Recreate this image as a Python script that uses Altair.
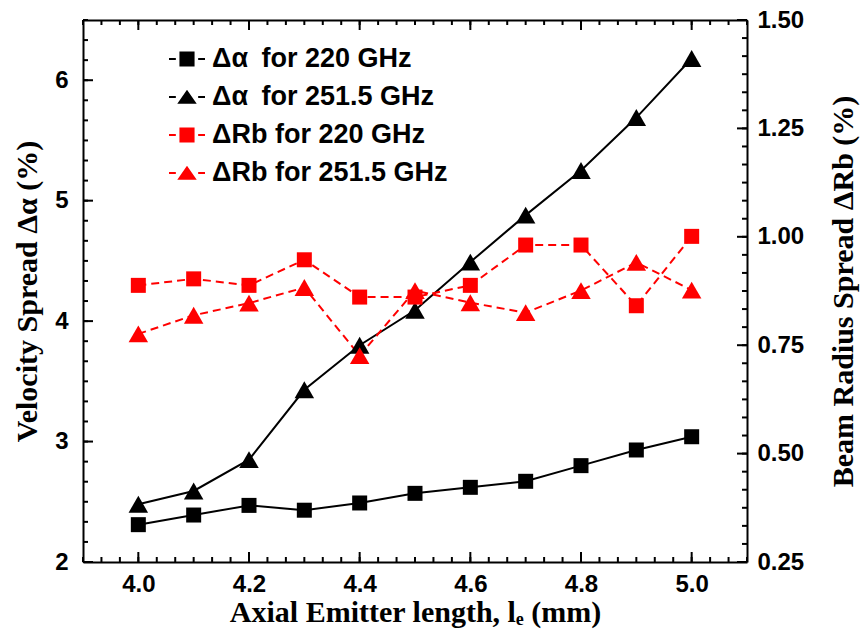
import altair as alt
import pandas as pd

# ---------------- data ----------------
x_mm = [4.0, 4.1, 4.2, 4.3, 4.4, 4.5, 4.6, 4.7, 4.8, 4.9, 5.0]
dalpha_220 = [2.31, 2.39, 2.47, 2.43, 2.49, 2.57, 2.62, 2.67, 2.80, 2.93, 3.04]
dalpha_2515 = [2.48, 2.59, 2.85, 3.43, 3.80, 4.09, 4.49, 4.88, 5.25, 5.69, 6.18]
drb_220 = [0.888, 0.903, 0.888, 0.947, 0.861, 0.861, 0.888, 0.981, 0.981, 0.841, 1.001]
drb_2515 = [0.776, 0.819, 0.847, 0.883, 0.726, 0.876, 0.848, 0.825, 0.876, 0.941, 0.877]

freqs = ["220", "251.5"]
series_labels = ["Δα\u2002for 220 GHz", "Δα\u2002for 251.5 GHz",
                 "ΔRb for 220 GHz", "ΔRb for 251.5 GHz"]
series_colors = ["black", "black", "red", "red"]

x_major = [4.0, 4.2, 4.4, 4.6, 4.8, 5.0]
x_minor = [round(3.9 + i / 30, 6) for i in range(37)]
yl_major = [2, 3, 4, 5, 6]
yl_minor = [round(2 + i / 6, 6) for i in range(28)]
yr_major = [0.25, 0.50, 0.75, 1.00, 1.25, 1.50]
yr_minor = [round(0.25 + i * 0.25 / 6, 6) for i in range(31)]

black = pd.DataFrame({"x": x_mm * 2, "v": dalpha_220 + dalpha_2515,
                      "freq": [freqs[0]] * len(x_mm) + [freqs[1]] * len(x_mm)})
red = pd.DataFrame({"x": x_mm * 2, "v": drb_220 + drb_2515,
                    "freq": [freqs[0]] * len(x_mm) + [freqs[1]] * len(x_mm)})
legend_df = pd.DataFrame({"series": series_labels})

W, H = 664, 542
LF = "Liberation Sans"
TF = "Liberation Serif"
TICK_FS = 24
TITLE_FS = 30
MAJ, MIN = 10, 5
TW = 2

xs = alt.Scale(domain=[3.9, 5.1], nice=False, zero=False)
yls = alt.Scale(domain=[2, 6.5], nice=False, zero=False)
yrs = alt.Scale(domain=[0.25, 1.5], nice=False, zero=False)
shape_sc = alt.Scale(domain=freqs, range=["square", "triangle-up"])
size_sc = alt.Scale(domain=freqs, range=[225, 380])

# A: black lines, bottom labelled axis, left labelled axis
A = alt.Chart(black).mark_line(color="black", strokeWidth=2).encode(
    x=alt.X("x:Q", scale=xs, axis=alt.Axis(
        orient="bottom", values=x_major, format=".1f", ticks=False, grid=False,
        domain=True, domainColor="black", domainWidth=2, labelPadding=10,
        labelFont=LF, labelFontWeight="bold", labelFontSize=TICK_FS, labelColor="black",
        title="Axial Emitter length, lₑ (mm)", titleFont=TF, titleFontWeight="bold",
        titleFontSize=TITLE_FS, titleColor="black", titlePadding=1)),
    y=alt.Y("v:Q", scale=yls, axis=alt.Axis(
        orient="left", values=yl_major, format="d", ticks=False, grid=False,
        domain=True, domainColor="black", domainWidth=2, labelPadding=15,
        labelFont=LF, labelFontWeight="bold", labelFontSize=TICK_FS, labelColor="black",
        title="Velocity Spread Δα (%)", titleFont=TF, titleFontWeight="bold",
        titleFontSize=TITLE_FS, titleColor="black", titlePadding=12)),
    detail="freq:N",
)

# B: red dashed lines, right labelled axis
B = alt.Chart(red).mark_line(color="red", strokeWidth=2, strokeDash=[8, 5]).encode(
    x=alt.X("x:Q", scale=xs, axis=None),
    y=alt.Y("v:Q", scale=yrs, axis=alt.Axis(
        orient="right", values=yr_major, format=".2f", ticks=False, grid=False,
        domain=True, domainColor="black", domainWidth=2, labelPadding=10,
        labelFont=LF, labelFontWeight="bold", labelFontSize=TICK_FS, labelColor="black",
        title="Beam Radius Spread ΔRb (%)", titleFont=TF, titleFontWeight="bold",
        titleFontSize=TITLE_FS, titleColor="black", titlePadding=55, titleAngle=270)),
    detail="freq:N",
)

# C: black markers, top border (axis domain moved to the top edge)
C = alt.Chart(black).mark_point(filled=True, color="black", opacity=1).encode(
    x=alt.X("x:Q", scale=xs, axis=alt.Axis(
        orient="bottom", offset=-H, labels=False, ticks=False, grid=False,
        domain=True, domainColor="black", domainWidth=2, title=None)),
    y=alt.Y("v:Q", scale=yls, axis=None),
    shape=alt.Shape("freq:N", scale=shape_sc, legend=None),
    size=alt.Size("freq:N", scale=size_sc, legend=None),
)

# D: red markers
D = alt.Chart(red).mark_point(filled=True, color="red", opacity=1).encode(
    x=alt.X("x:Q", scale=xs, axis=None),
    y=alt.Y("v:Q", scale=yrs, axis=None),
    shape=alt.Shape("freq:N", scale=shape_sc, legend=None),
    size=alt.Size("freq:N", scale=size_sc, legend=None),
)


# inward tick marks, positioned through the scales
def xticks(values, length):
    df = pd.DataFrame({"t": values})
    out = []
    for ypos in (H - length / 2, length / 2):
        out.append(alt.Chart(df).mark_tick(color="black", thickness=TW, size=length,
                                           opacity=1).encode(
            x=alt.X("t:Q", scale=xs, axis=None), y=alt.value(ypos)))
    return out


def yticks(values, length, scale, side):
    df = pd.DataFrame({"t": values})
    if side == "left":
        x0, x1 = 0, length
    else:
        x0, x1 = W, W - length
    return [alt.Chart(df).mark_rule(color="black", strokeWidth=TW, opacity=1).encode(
        y=alt.Y("t:Q", scale=scale, axis=None),
        x=alt.value(x0), x2=alt.value(x1))]


tick_layers = (yticks(yl_minor, MIN, yls, "left") + yticks(yl_major, MAJ, yls, "left")
               + yticks(yr_minor, MIN, yrs, "right") + yticks(yr_major, MAJ, yrs, "right")
               + xticks(x_minor, MIN) + xticks(x_major, MAJ))

# E: legend only
dash_l = "M-1,-0.055H-0.62V0.055H-1Z"
dash_r = "M0.62,-0.055H1V0.055H0.62Z"
sq = "M-0.42,-0.42H0.42V0.42H-0.42Z"
tri = "M0,-0.40L0.54,0.38H-0.54Z"
legend_paths = [dash_l + sq + dash_r, dash_l + tri + dash_r,
                dash_l + sq + dash_r, dash_l + tri + dash_r]

leg = alt.Legend(orient="none", legendX=86, legendY=21, title=None,
                 symbolSize=1296, symbolStrokeWidth=0, labelFont=LF,
                 labelFontWeight="bold", labelFontSize=27, labelColor="black",
                 labelOffset=7, rowPadding=7, padding=0, labelLimit=400)

E = alt.Chart(legend_df).mark_point(filled=True, opacity=1).encode(
    shape=alt.Shape("series:N", scale=alt.Scale(domain=series_labels, range=legend_paths),
                    legend=leg, sort=series_labels),
    color=alt.Color("series:N", scale=alt.Scale(domain=series_labels, range=series_colors),
                    legend=leg, sort=series_labels),
).transform_filter("false")

chart = alt.layer(A, B, *tick_layers, C, D, E).resolve_scale(
    y="independent", shape="independent", size="independent", color="independent"
).resolve_axis(
    x="independent", y="independent"
).properties(
    width=W, height=H,
    autosize=alt.AutoSizeParams(type="none"),
    padding={"left": 83, "top": 20, "right": 117, "bottom": 82},
).configure_view(stroke=None).configure(background="white")

chart.save("out.html", embed_options={"renderer": "svg", "actions": False})
